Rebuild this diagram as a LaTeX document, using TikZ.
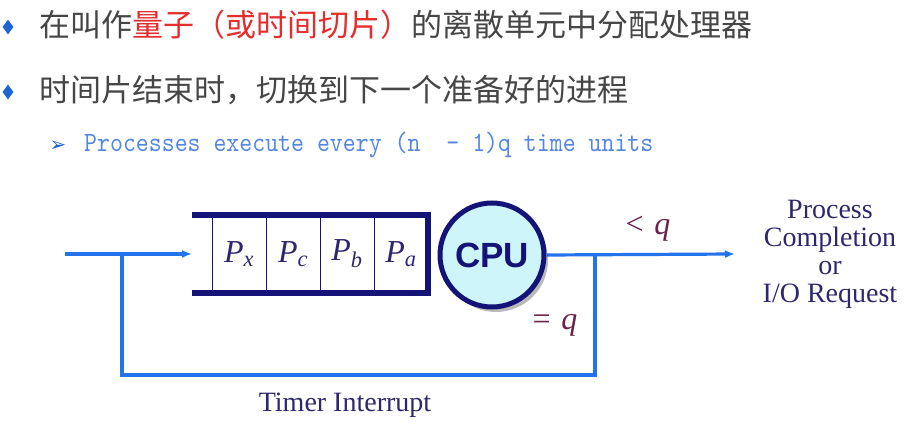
\documentclass[tikz,border=0pt]{standalone}
\usepackage{fontspec}
\setmainfont{Liberation Serif}
\newfontfamily\cjkFont{Noto Sans CJK SC}
\newfontfamily\cpuFont{Liberation Sans}
\newfontfamily\symbolFont{DejaVu Sans}
\newfontfamily\noteFont{lmmono10-regular}[Extension=.otf, FakeStretch=0.88]
\usetikzlibrary{positioning,arrows.meta,shapes.geometric,shadows}
\definecolor{flowColor}{RGB}{35,115,235}
\definecolor{queueColor}{RGB}{20,20,120}
\definecolor{labelColor}{RGB}{45,40,110}
\definecolor{quantumColor}{RGB}{105,35,75}
\definecolor{cpuFill}{RGB}{205,245,250}
\definecolor{bulletColor}{RGB}{30,100,210}
\definecolor{noteColor}{RGB}{85,135,225}
\definecolor{bodyColor}{RGB}{70,70,70}
\definecolor{highlightColor}{RGB}{228,45,45}
\tikzstyle{pixels} = [x=1pt, y=-1pt]
\tikzstyle{flowLine} = [color=flowColor, line width=3.2pt]
\tikzstyle{flowArrow} = [flowLine, -{Latex[length=10pt,width=8pt]}]
\tikzstyle{queueFrame} = [color=queueColor, line width=6.5pt]
\tikzstyle{cellStyle} = [draw=queueColor, line width=1pt, minimum width=54pt, minimum height=78pt, inner sep=0pt, outer sep=0pt, font=\fontsize{32}{32}\selectfont, text=labelColor]
\tikzstyle{cpuStyle} = [circle, draw=queueColor, line width=5pt, fill=cpuFill, minimum size=104pt, inner sep=0pt, text=queueColor, font=\cpuFont\bfseries\fontsize{35}{35}\selectfont, drop shadow={shadow xshift=4pt, shadow yshift=-5pt, fill=black!45, opacity=.6}]
\tikzstyle{bulletStyle} = [diamond, fill=bulletColor, aspect=.7, minimum width=11pt, minimum height=15pt, inner sep=0pt]
\tikzstyle{headText} = [anchor=west, inner sep=0pt, text=bodyColor, font=\cjkFont\fontsize{31}{31}\selectfont]
\tikzstyle{noteText} = [anchor=west, inner sep=0pt, text=noteColor, font=\noteFont\fontsize{28}{28}\selectfont]
\tikzstyle{diagramText} = [text=labelColor, align=center, font=\fontsize{28}{28}\selectfont]
\tikzstyle{quantumText} = [text=quantumColor, font=\fontsize{32}{32}\selectfont]
\newcommand{\procName}[1]{\textit{P}\textsubscript{\textit{#1}}}
\begin{document}
\begin{tikzpicture}[pixels]
  \useasboundingbox (0,0) rectangle (914,425);
  \node[bulletStyle] (bulletA) at (8,27) {};
  \node[headText] (lineA) at (39,25) {在叫作\textcolor{highlightColor}{量子（或时间切片）}的离散单元中分配处理器};
  \node[bulletStyle] (bulletB) at (8,92) {};
  \node[headText] (lineB) at (39,90) {时间片结束时，切换到下一个准备好的进程};
  \node[text=bulletColor, inner sep=0pt, font=\symbolFont\fontsize{20}{20}\selectfont] (noteMark) at (58,146) {➢};
  \node[noteText] (lineC) at (84,145) {Processes execute every (n\ \ - 1)q time units};

  \node[cellStyle] (px) at (239,254) {\procName{x}};
  \node[cellStyle, right=0pt of px] (pc) {\procName{c}};
  \node[cellStyle, right=0pt of pc] (pb) {\procName{b}};
  \node[cellStyle, right=0pt of pb] (pa) {\procName{a}};
  \draw[queueFrame] ([xshift=-20pt]px.north west) -- (pa.north east) -- (pa.south east) -- ([xshift=-20pt]px.south west);
  \node[cpuStyle] (cpu) at (492,255) {CPU};

  \coordinate (in) at (65,254);
  \coordinate (qin) at ([xshift=-20pt]px.west);
  \coordinate (out) at (735,254);
  \coordinate (split) at (595,254);
  \coordinate (low) at (595,375);
  \coordinate (join) at (122,254);
  \draw[flowArrow] (in) -- (qin);
  \draw[flowArrow] (cpu.east) -- (out);
  \draw[flowLine] (split) -- (low) -| (join);

  \node[quantumText] (lessQ) at (648,229) {<\,\,\textit{q}};
  \node[quantumText] (equalQ) at (555,325) {=\,\,\textit{q}};
  \node[diagramText] (result) at (830,254) {Process\\Completion\\or\\I/O Request};
  \node[diagramText] (timer) at (345,405) {Timer Interrupt};
\end{tikzpicture}
\end{document}
